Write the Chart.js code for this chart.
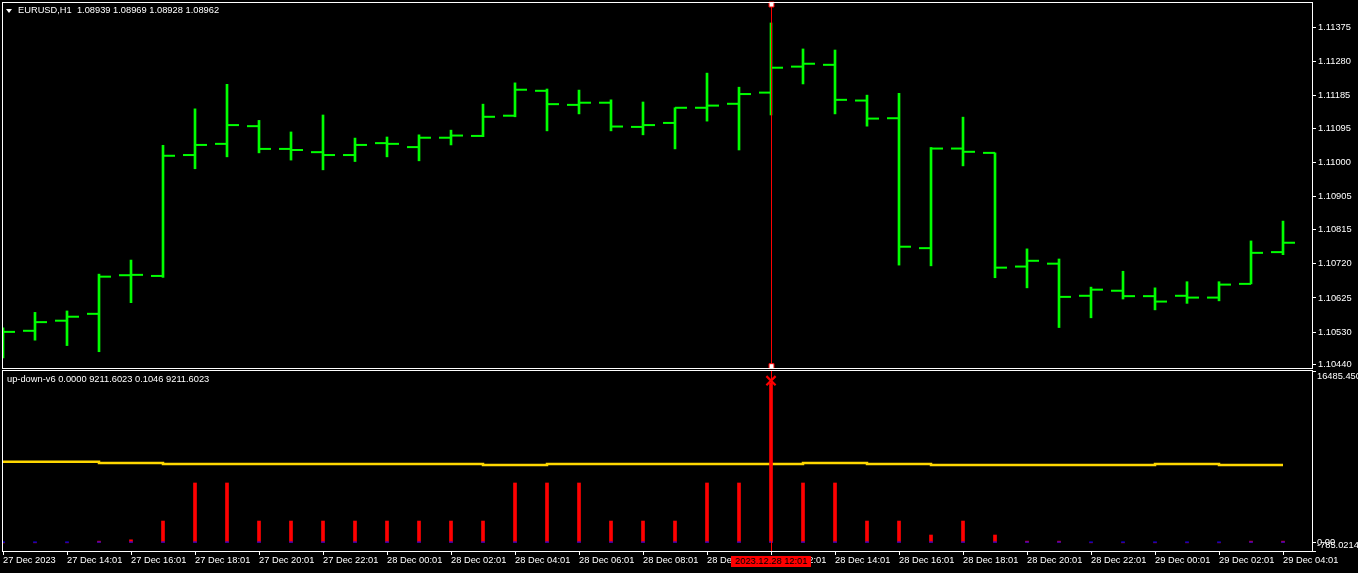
<!DOCTYPE html>
<html>
<head>
<meta charset="utf-8">
<script src="https://cdn.jsdelivr.net/npm/chart.js@4.4.1/dist/chart.umd.min.js"></script>
<style>
html,body{margin:0;padding:0;background:#000;width:1358px;height:573px;overflow:hidden;}
#wrap{position:relative;width:1358px;height:573px;background:#000;}
canvas{position:absolute;left:0;}
.lbl{position:absolute;color:#fff;font-family:'Liberation Sans',Arial,sans-serif;font-size:9.3px;line-height:11px;white-space:pre;}
#tri{position:absolute;left:6px;top:9px;width:0;height:0;border-left:3px solid transparent;border-right:3px solid transparent;border-top:4px solid #fff;}
#hl{position:absolute;left:731px;top:556px;width:80px;height:11px;background:#ff0000;color:#000;font-family:'Liberation Sans',Arial,sans-serif;font-size:9.3px;line-height:11px;text-align:center;white-space:pre;}
</style>
</head>
<body>
<div id="wrap">
  <canvas id="main" width="1358" height="370" style="top:0px"></canvas>
  <canvas id="sub" width="1358" height="204" style="top:369px"></canvas>
  <div id="tri"></div>
  <div class="lbl" style="left:18px;top:5px;">EURUSD,H1  1.08939 1.08969 1.08928 1.08962</div>
  <div class="lbl" style="left:7px;top:374px;">up-down-v6 0.0000 9211.6023 0.1046 9211.6023</div>
  <div id="hl">2023.12.28 12:01</div>
</div>
<script>
// ---------- DATA ----------
const barTimes = [
  "2023.12.27 12:01","2023.12.27 13:01","2023.12.27 14:01","2023.12.27 15:01","2023.12.27 16:01","2023.12.27 17:01",
  "2023.12.27 18:01","2023.12.27 19:01","2023.12.27 20:01","2023.12.27 21:01","2023.12.27 22:01","2023.12.27 23:01",
  "2023.12.28 00:01","2023.12.28 01:01","2023.12.28 02:01","2023.12.28 03:01","2023.12.28 04:01","2023.12.28 05:01",
  "2023.12.28 06:01","2023.12.28 07:01","2023.12.28 08:01","2023.12.28 09:01","2023.12.28 10:01","2023.12.28 11:01",
  "2023.12.28 12:01","2023.12.28 13:01","2023.12.28 14:01","2023.12.28 15:01","2023.12.28 16:01","2023.12.28 17:01",
  "2023.12.28 18:01","2023.12.28 19:01","2023.12.28 20:01","2023.12.28 21:01","2023.12.28 22:01","2023.12.28 23:01",
  "2023.12.29 00:01","2023.12.29 01:01","2023.12.29 02:01","2023.12.29 03:01","2023.12.29 04:01"
];
const opens  = [1.10533,1.10534,1.10562,1.10581,1.10688,1.10686,1.11021,1.11052,1.11101,1.11038,1.11029,1.11021,1.11054,1.11043,1.11069,1.11074,1.11130,1.11199,1.11160,1.11166,1.11099,1.11110,1.11152,1.11163,1.11194,1.11266,1.11271,1.11172,1.11123,1.10763,1.11039,1.11027,1.10712,1.10720,1.10631,1.10645,1.10630,1.10631,1.10626,1.10664,1.10752];
const highs  = [1.10542,1.10585,1.10589,1.10691,1.10730,1.11048,1.11149,1.11217,1.11117,1.11085,1.11132,1.11068,1.11071,1.11077,1.11090,1.11162,1.11221,1.11204,1.11201,1.11174,1.11168,1.11152,1.11248,1.11209,1.11387,1.11315,1.11312,1.11187,1.11192,1.11042,1.11126,1.11027,1.10761,1.10733,1.10655,1.10699,1.10653,1.10670,1.10670,1.10783,1.10838];
const lows   = [1.10459,1.10508,1.10493,1.10476,1.10612,1.10682,1.10983,1.11016,1.11027,1.11007,1.10980,1.11003,1.11016,1.11005,1.11049,1.11072,1.11127,1.11088,1.11135,1.11088,1.11077,1.11038,1.11115,1.11035,1.11132,1.11218,1.11135,1.11101,1.10716,1.10714,1.10991,1.10681,1.10653,1.10543,1.10570,1.10622,1.10592,1.10610,1.10617,1.10664,1.10745];
const closes = [1.10531,1.10558,1.10573,1.10684,1.10689,1.11019,1.11049,1.11104,1.11038,1.11035,1.11021,1.11049,1.11052,1.11069,1.11075,1.11127,1.11202,1.11162,1.11166,1.11100,1.11104,1.11152,1.11158,1.11190,1.11263,1.11274,1.11174,1.11122,1.10767,1.11039,1.11030,1.10709,1.10728,1.10628,1.10648,1.10630,1.10615,1.10626,1.10662,1.10750,1.10778];

// indicator window (up-down-v6)
const upHist   = [0,0,0,160,290,2090,5740,5740,2090,2090,2090,2090,2090,2090,2090,2090,5740,5740,5740,2090,2090,2090,5740,5740,15333,5740,5740,2090,2090,748,2090,748,160,160,0,0,0,0,0,160,160];
const downHist = [96,96,96,96,96,96,96,96,96,96,96,96,96,96,96,96,96,96,96,96,96,96,96,96,96,96,96,96,96,96,96,96,96,96,96,96,96,96,96,96,96];
const avgLine  = [7657,7782,7782,7782,7657,7657,7561,7561,7561,7561,7561,7561,7561,7561,7561,7561,7465,7465,7561,7561,7561,7561,7561,7561,7561,7561,7657,7657,7561,7561,7465,7465,7465,7465,7465,7465,7465,7561,7561,7465,7465];
const signalIndex = 24;
const signalValue = 15554;

// axes
const priceMin = 1.104309, priceMax = 1.114423;
const priceTicks = [1.11375,1.11280,1.11185,1.11095,1.11000,1.10905,1.10815,1.10720,1.10625,1.10530,1.10440];
const subMin = -785.0214, subMax = 16485.45;
const subTickValues = [-785.0214, 0, 16485.45];
const subTickLabels = ["-785.0214", "0.00", "16485.450"];
const timeTickIndex  = [0,2,4,6,8,10,12,14,16,18,20,22,24,26,28,30,32,34,36,38,40];
const timeTickLabels = ["27 Dec 2023","27 Dec 14:01","27 Dec 16:01","27 Dec 18:01","27 Dec 20:01","27 Dec 22:01",
  "28 Dec 00:01","28 Dec 02:01","28 Dec 04:01","28 Dec 06:01","28 Dec 08:01","28 Dec 10:01","28 Dec 12:01",
  "28 Dec 14:01","28 Dec 16:01","28 Dec 18:01","28 Dec 20:01","28 Dec 22:01","29 Dec 00:01","29 Dec 02:01","29 Dec 04:01"];
const cursorIndex = 24;
const cursorHandles = [1.10436, 1.11438];

// ---------- STYLE ----------
const X_MAX = 40.906;      // visible bar span incl. right margin
const TICK = 0.1875;       // open/close tick offset as fraction of bar spacing
const VLINE_SHIFT = 0.5 / 32; // half-pixel nudge so the 1px cursor line is crisp
const FONT = {family: "'Liberation Sans', Arial, sans-serif", size: 9.3};
const GREEN = '#00ff00';

const framePlugin = {
  id: 'frame',
  afterDraw(chart) {
    const {ctx, chartArea: a} = chart;
    ctx.save();
    ctx.strokeStyle = '#ffffff';
    ctx.lineWidth = 1;
    ctx.strokeRect(a.left - 0.5, a.top - 0.5, a.right - a.left + 1, a.bottom - a.top + 1);
    ctx.restore();
  }
};
function fixWidth(w) { return s => { s.width = w; s.paddingTop = 0; s.paddingBottom = 0; s.paddingLeft = 0; s.paddingRight = 0; }; }
function fixHeight(h) { return s => { s.height = h; s.paddingTop = 0; s.paddingBottom = 0; s.paddingLeft = 0; s.paddingRight = 0; }; }

const common = {
  responsive: false,
  animation: false,
  devicePixelRatio: 1,
  events: [],
  plugins: {legend: {display: false}, tooltip: {enabled: false}, title: {display: false}}
};

new Chart(document.getElementById('main'), {
  type: 'bar',
  data: {
    datasets: [
      {type: 'line', label: 'vline', data: cursorHandles.map(v => ({x: cursorIndex + VLINE_SHIFT, y: v})),
       borderColor: '#ff0000', borderWidth: 1, pointStyle: 'rect', pointRadius: 3.5,
       pointBackgroundColor: '#ffffff', pointBorderColor: '#ff0000', pointBorderWidth: 1, clip: false, order: 0},
      {type: 'bar', label: 'range', data: highs.map((h, i) => ({x: i, y: [lows[i], h]})),
       backgroundColor: GREEN, borderWidth: 0, barThickness: 2, clip: 0, order: 1},
      {type: 'scatter', label: 'open', data: opens.map((v, i) => ({x: i - TICK, y: v})),
       pointStyle: 'line', pointRadius: 6, pointBorderWidth: 2, pointBorderColor: GREEN, clip: 0, order: 2},
      {type: 'scatter', label: 'close', data: closes.map((v, i) => ({x: i + TICK, y: v})),
       pointStyle: 'line', pointRadius: 6, pointBorderWidth: 2, pointBorderColor: GREEN, clip: 0, order: 2}
    ]
  },
  options: Object.assign({}, common, {
    layout: {autoPadding: false, padding: {left: 3, top: 3, right: 0, bottom: 2}},
    scales: {
      x: {type: 'linear', min: 0, max: X_MAX, offset: false, display: false},
      y: {
        type: 'linear', position: 'right', min: priceMin, max: priceMax,
        afterFit: fixWidth(46),
        afterBuildTicks: s => { s.ticks = priceTicks.map(v => ({value: v})); },
        grid: {display: true, drawOnChartArea: false, drawTicks: true, tickLength: 4, color: '#ffffff'},
        border: {display: false},
        ticks: {color: '#ffffff', font: FONT, padding: 2, callback: v => Number(v).toFixed(5)}
      }
    }
  }),
  plugins: [framePlugin]
});

new Chart(document.getElementById('sub'), {
  type: 'bar',
  data: {
    datasets: [
      {type: 'line', label: 'vline', data: [{x: cursorIndex + VLINE_SHIFT, y: subMin}, {x: cursorIndex + VLINE_SHIFT, y: subMax}],
       borderColor: '#ff0000', borderWidth: 1, pointRadius: 0, clip: false, order: 0},
      {type: 'scatter', label: 'signal', data: [{x: signalIndex, y: signalValue}],
       pointStyle: 'crossRot', pointRadius: 6.5, pointBorderWidth: 2.2, pointBorderColor: '#ff0000', order: 0},
      {type: 'bar', label: 'down', data: downHist.map((v, i) => ({x: i, y: v})),
       backgroundColor: '#0000ff', borderWidth: 0, barThickness: 3, grouped: false, order: 1},
      {type: 'bar', label: 'up', data: upHist.map((v, i) => ({x: i, y: v})),
       backgroundColor: '#ff0000', borderWidth: 0, barThickness: 3, grouped: false, order: 2},
      {type: 'line', label: 'avg', data: avgLine.map((v, i) => ({x: i, y: v})),
       borderColor: '#ffd700', borderWidth: 2.5, stepped: 'after', pointRadius: 0, order: 3}
    ]
  },
  options: Object.assign({}, common, {
    layout: {autoPadding: false, padding: {left: 3, top: 2, right: 0, bottom: 0}},
    scales: {
      x: {
        type: 'linear', min: 0, max: X_MAX, position: 'bottom', offset: false,
        afterFit: fixHeight(22),
        afterBuildTicks: s => { s.ticks = timeTickIndex.map(v => ({value: v})); },
        grid: {display: true, offset: false, drawOnChartArea: false, drawTicks: true, tickLength: 4, color: '#ffffff'},
        border: {display: false},
        ticks: {color: '#ffffff', font: FONT, padding: 0, align: 'start', maxRotation: 0, minRotation: 0, autoSkip: false,
                callback: (v, i) => timeTickLabels[i]}
      },
      y: {
        type: 'linear', position: 'right', min: subMin, max: subMax,
        afterFit: fixWidth(46),
        afterBuildTicks: s => { s.ticks = subTickValues.map(v => ({value: v})); },
        grid: {display: true, drawOnChartArea: false, drawTicks: true, tickLength: 4, color: '#ffffff'},
        border: {display: false},
        ticks: {color: '#ffffff', font: FONT, padding: 1,
                callback: (v, i) => i === 0 ? [subTickLabels[i], ''] : (i === subTickLabels.length - 1 ? ['', subTickLabels[i]] : subTickLabels[i])}
      }
    }
  }),
  plugins: [framePlugin]
});
</script>
</body>
</html>
